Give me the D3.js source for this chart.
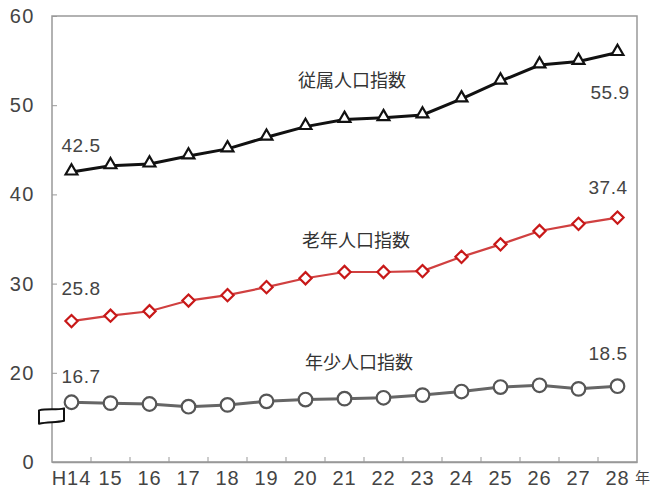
<!DOCTYPE html>
<html><head><meta charset="utf-8">
<script src="https://cdn.jsdelivr.net/npm/d3@7"></script>
<style>body{margin:0;background:#fff}svg{display:block}text{font-family:"Liberation Sans","Noto Sans CJK JP",sans-serif}</style>
</head><body>
<script>
const categories = ["H14","15","16","17","18","19","20","21","22","23","24","25","26","27","28"];
const dependency = [42.5,43.2,43.4,44.3,45.1,46.4,47.6,48.4,48.6,48.9,50.7,52.7,54.5,54.9,55.9];
const elderly    = [25.8,26.4,26.9,28.1,28.7,29.6,30.6,31.3,31.3,31.4,33.0,34.4,35.9,36.7,37.4];
const young      = [16.7,16.6,16.5,16.2,16.4,16.8,17.0,17.1,17.2,17.5,17.9,18.4,18.6,18.2,18.5];
const yTickValues = [10,20,30,40,50,60];
const yTickLabels = ["0","20","30","40","50","60"];
const seriesNames = ["従属人口指数","老年人口指数","年少人口指数"];
const xUnit = "年";

const W=650,H=494;
const m={l:52,r:13,t:16,b:32};
const svg=d3.select("body").append("svg").attr("width",W).attr("height",H);
const x=d3.scaleBand().domain(categories).range([m.l,W-m.r]);
const y=d3.scaleLinear().domain([10,60]).range([H-m.b,m.t]);
const cx=d=>x(d)+x.bandwidth()/2;

// frame
svg.append("rect").attr("x",m.l).attr("y",m.t).attr("width",W-m.r-m.l).attr("height",H-m.b-m.t)
  .attr("fill","none").attr("stroke","#999").attr("stroke-width",1.5);

// y axis
const ya=svg.append("g").attr("transform",`translate(${m.l},0)`)
  .call(d3.axisRight(y).tickValues(yTickValues).tickFormat((d,i)=>yTickLabels[i]).tickSize(5));
ya.select(".domain").remove();
ya.selectAll("line").attr("stroke","#999");
ya.selectAll("text").attr("x",-17).attr("text-anchor","end").attr("font-size",20)
  .attr("letter-spacing",1.5).attr("fill","#444").attr("dy","0.32em");

// x axis
const xa=svg.append("g").attr("transform",`translate(0,${H-m.b})`)
  .call(d3.axisBottom(x).tickSize(0).tickPadding(12));
xa.select(".domain").attr("stroke","#999").attr("stroke-width",1.5);
xa.selectAll("text").attr("font-size",20).attr("letter-spacing",1).attr("fill","#444").attr("dy","0.55em");
// boundary ticks
svg.append("g").selectAll("line").data(categories.slice(1)).join("line")
  .attr("x1",d=>x(d)).attr("x2",d=>x(d)).attr("y1",H-m.b).attr("y2",H-m.b-5).attr("stroke","#999");
svg.append("text").attr("x",W-15).attr("y",H-m.b+21).attr("font-size",15).attr("fill","#444").text(xUnit);

// axis break symbol
const by0=y(15.9), by1=y(14.4);
svg.append("path")
  .attr("d",`M${m.l-13},${by0+1} C${m.l-4},${by0-1} ${m.l+4},${by0+1} ${m.l+12},${by0-1} L${m.l+12},${by1-2} C${m.l+4},${by1} ${m.l-4},${by1-1} ${m.l-13},${by1+1} Z`)
  .attr("fill","#fff").attr("stroke","#111").attr("stroke-width",2).attr("stroke-linejoin","round");

const line=d3.line().x((d,i)=>cx(categories[i])).y(d=>y(d));

// young (gray circles)
svg.append("path").datum(young).attr("d",line).attr("fill","none").attr("stroke","#666").attr("stroke-width",3);
svg.append("g").selectAll("circle").data(young).join("circle")
  .attr("cx",(d,i)=>cx(categories[i])).attr("cy",d=>y(d)).attr("r",6.8)
  .attr("fill","#fff").attr("stroke","#555").attr("stroke-width",2.2);

// elderly (red diamonds)
svg.append("path").datum(elderly).attr("d",line).attr("fill","none").attr("stroke","#d04040").attr("stroke-width",2.2);
svg.append("g").selectAll("path").data(elderly).join("path")
  .attr("d",d3.symbol(d3.symbolDiamond2,95))
  .attr("transform",(d,i)=>`translate(${cx(categories[i])},${y(d)})`)
  .attr("fill","#fff").attr("stroke","#c81818").attr("stroke-width",2.2);

// dependency (black triangles)
svg.append("path").datum(dependency).attr("d",line).attr("fill","none").attr("stroke","#111").attr("stroke-width",3);
svg.append("g").selectAll("path").data(dependency).join("path")
  .attr("d",d3.symbol(d3.symbolTriangle2,100))
  .attr("transform",(d,i)=>`translate(${cx(categories[i])},${y(d)-1})`)
  .attr("fill","#fff").attr("stroke","#111").attr("stroke-width",2.2);

// value labels
const lbl=(v,i,dx,dy,anchor)=>svg.append("text").attr("x",cx(categories[i])+dx).attr("y",y(v)+dy)
  .attr("text-anchor",anchor).attr("font-size",19).attr("letter-spacing",0.5).attr("fill","#444").text(v.toFixed(1));
lbl(dependency[0],0,-10,-20,"start");
lbl(dependency[14],14,12,46,"end");
lbl(elderly[0],0,-10,-26,"start");
lbl(elderly[14],14,10,-24,"end");
lbl(young[0],0,-10,-19,"start");
lbl(young[14],14,10,-26,"end");

// series names
const nm=(t,xx,yy)=>svg.append("text").attr("x",xx).attr("y",yy).attr("font-size",18).attr("fill","#333").text(t);
nm(seriesNames[0],298,87);
nm(seriesNames[1],302,247);
nm(seriesNames[2],305,369);
</script>
</body></html>
